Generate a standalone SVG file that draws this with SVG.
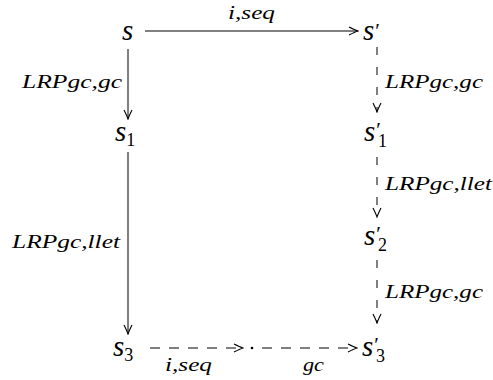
<svg xmlns="http://www.w3.org/2000/svg" width="493" height="380" viewBox="0 0 493 380">
<style>
.n{font-family:"Liberation Serif","Times New Roman",serif;font-style:italic;font-size:29px;fill:#000}
.sub{font-style:normal;font-size:18px}
.pr{font-style:normal;font-size:21px}
.l{font-family:"Liberation Serif","Times New Roman",serif;font-style:italic;font-size:18px;fill:#000}
.e{stroke:#000;stroke-width:1;fill:none}
.d{stroke-dasharray:8 12}
.dh{stroke-dasharray:10 9}
</style>
<defs>
<marker id="ah" viewBox="-10 -5 11 10" refX="0" refY="0" markerWidth="11" markerHeight="10" markerUnits="userSpaceOnUse" orient="auto">
<path d="M-9,-4 Q-3,-1 0,0 Q-3,1 -9,4" fill="none" stroke="#000" stroke-width="1.1"/>
</marker>
</defs>
<g id="edges">
<line class="e" x1="145" y1="31" x2="358" y2="31" marker-end="url(#ah)"/>
<line class="e" x1="128" y1="49" x2="128" y2="119" marker-end="url(#ah)"/>
<line class="e" x1="128" y1="152" x2="128" y2="334" marker-end="url(#ah)"/>
<line class="e d" x1="377" y1="47" x2="377" y2="112" marker-end="url(#ah)"/>
<line class="e d" x1="377" y1="157" x2="377" y2="217" marker-end="url(#ah)"/>
<line class="e d" x1="377" y1="260" x2="377" y2="323" marker-end="url(#ah)"/>
<line class="e dh" x1="150" y1="348" x2="243" y2="348" marker-end="url(#ah)"/>
<circle cx="252" cy="348" r="1.3" fill="#000"/>
<line class="e dh" x1="262" y1="348" x2="357" y2="348" marker-end="url(#ah)"/>
<text class="l" x="228" y="19" textLength="47" lengthAdjust="spacingAndGlyphs">i,seq</text>
<text class="l" x="22" y="88" textLength="100" lengthAdjust="spacingAndGlyphs">LRPgc,gc</text>
<text class="l" x="385" y="88" textLength="98" lengthAdjust="spacingAndGlyphs">LRPgc,gc</text>
<text class="l" x="12" y="248" textLength="108" lengthAdjust="spacingAndGlyphs">LRPgc,llet</text>
<text class="l" x="385" y="190" textLength="107" lengthAdjust="spacingAndGlyphs">LRPgc,llet</text>
<text class="l" x="385" y="298" textLength="98" lengthAdjust="spacingAndGlyphs">LRPgc,gc</text>
<text class="l" x="165" y="371" textLength="47" lengthAdjust="spacingAndGlyphs">i,seq</text>
<text class="l" x="303" y="371" textLength="21" lengthAdjust="spacingAndGlyphs">gc</text>
</g>
<g id="s"><text class="n" x="122" y="40">s</text></g>
<g id="s_prime"><text class="n" x="363" y="40">s<tspan class="pr" dx="1" dy="-2">′</tspan></text></g>
<g id="s1"><text class="n" x="115" y="141">s<tspan class="sub" dy="5">1</tspan></text></g>
<g id="s1_prime"><text class="n" x="364" y="141">s<tspan class="pr" dx="1" dy="-4">′</tspan><tspan class="sub" dx="-3" dy="10">1</tspan></text></g>
<g id="s2_prime"><text class="n" x="364" y="245">s<tspan class="pr" dx="1" dy="-4">′</tspan><tspan class="sub" dx="-3" dy="10">2</tspan></text></g>
<g id="s3"><text class="n" x="113" y="356">s<tspan class="sub" dy="5">3</tspan></text></g>
<g id="s3_prime"><text class="n" x="362" y="356">s<tspan class="pr" dx="1" dy="-4">′</tspan><tspan class="sub" dx="-3" dy="10">3</tspan></text></g>
</svg>
